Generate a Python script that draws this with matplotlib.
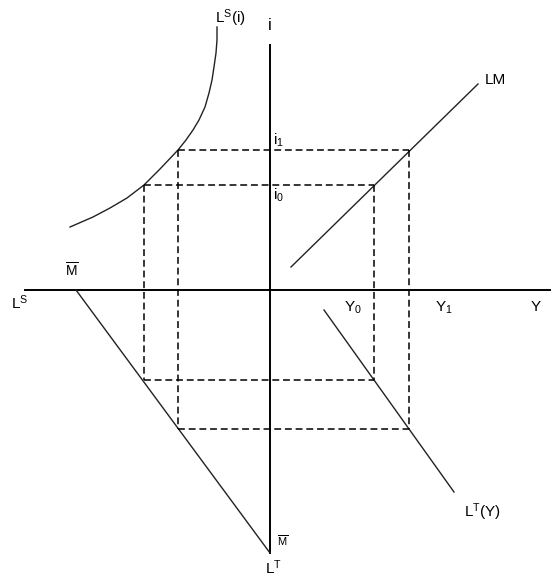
import matplotlib
matplotlib.use("Agg")
import matplotlib.pyplot as plt

plt.rcParams['font.family'] = ['Liberation Sans', 'DejaVu Sans']
plt.rcParams['mathtext.default'] = 'regular'

# Diagram values (origin at the axes crossing)
i_levels = [105, 140]            # i0, i1
Y_levels = [104, 139]            # Y0, Y1
LS_levels = [126, 92]            # speculative balances at i0, i1 (leftwards)
LT_levels = [90, 139]            # transaction balances at Y0, Y1 (downwards)
M_bar_h = 194                    # M-bar on the L^S axis
M_bar_v = 263                    # M-bar on the L^T axis

# L^S(i) curve (x = -L^S, y = i)
ls_x = [-53, -53, -54, -56, -58, -61, -65, -71, -77, -84, -92, -110, -126, -143, -160, -177, -200]
ls_y = [263, 250, 237, 223, 210, 197, 183, 170, 160, 150, 140, 121, 105, 92, 82, 73, 63]

# LM line end points (Y, i)
lm_x = [21, 208]
lm_y = [23, 206]

# L^T(Y) line end points (Y, -L^T)
lt_x = [54, 184]
lt_y = [-20, -202]

# Axis extents
x_axis = [-245, 280]
y_axis = [245, -263]

fig = plt.figure(figsize=(5.6, 5.8), dpi=100)
ax = fig.add_axes([0, 0, 1, 1])
ax.set_xlim(-270, 290)
ax.set_ylim(-290, 290)
ax.axis('off')

# axes
ax.plot(x_axis, [0, 0], color='black', lw=1.4)
ax.plot([0, 0], y_axis, color='black', lw=1.4)

curve_kw = dict(color='#222222', lw=1.0, solid_joinstyle='round')
ax.plot(ls_x, ls_y, **curve_kw)
ax.plot(lm_x, lm_y, **curve_kw)
ax.plot(lt_x, lt_y, **curve_kw)
ax.plot([-M_bar_h, 0], [0, -M_bar_v], **curve_kw)

# dashed rectangles
dash_kw = dict(color='black', lw=1.1, linestyle=(0, (4.5, 2.5)))
for k in range(2):
    i = i_levels[k]
    Y = Y_levels[k]
    ls = -LS_levels[k]
    lt = -LT_levels[k]
    ax.plot([ls, Y], [i, i], **dash_kw)
    ax.plot([ls, Y], [lt, lt], **dash_kw)
    ax.plot([ls, ls], [i, lt], **dash_kw)
    ax.plot([Y, Y], [i, lt], **dash_kw)

fs = 11
ax.text(0, 265, "i", fontsize=12, ha='center', va='center')
ax.text(-40, 272, "L$^S$(i)", fontsize=fs, ha='center', va='center')
ax.text(215, 210, "LM", fontsize=fs, ha='left', va='center')
ax.text(3, 150, "i$_1$", fontsize=fs, ha='left', va='center')
ax.text(3, 95, "i$_0$", fontsize=fs, ha='left', va='center')
ax.text(-198, 20, r"$\overline{M}$", fontsize=10, ha='center', va='center')
ax.text(-250, -13, "L$^S$", fontsize=fs, ha='center', va='center')
ax.text(83, -18, "Y$_0$", fontsize=fs, ha='center', va='center')
ax.text(174, -18, "Y$_1$", fontsize=fs, ha='center', va='center')
ax.text(266, -17, "Y", fontsize=fs, ha='center', va='center')
ax.text(212, -222, "L$^T$(Y)", fontsize=fs, ha='center', va='center')
ax.text(13, -251, r"$\overline{M}$", fontsize=8, ha='center', va='center')
ax.text(3, -278, "L$^T$", fontsize=fs, ha='center', va='center')

fig.savefig("out.png", dpi=100, facecolor='white')
